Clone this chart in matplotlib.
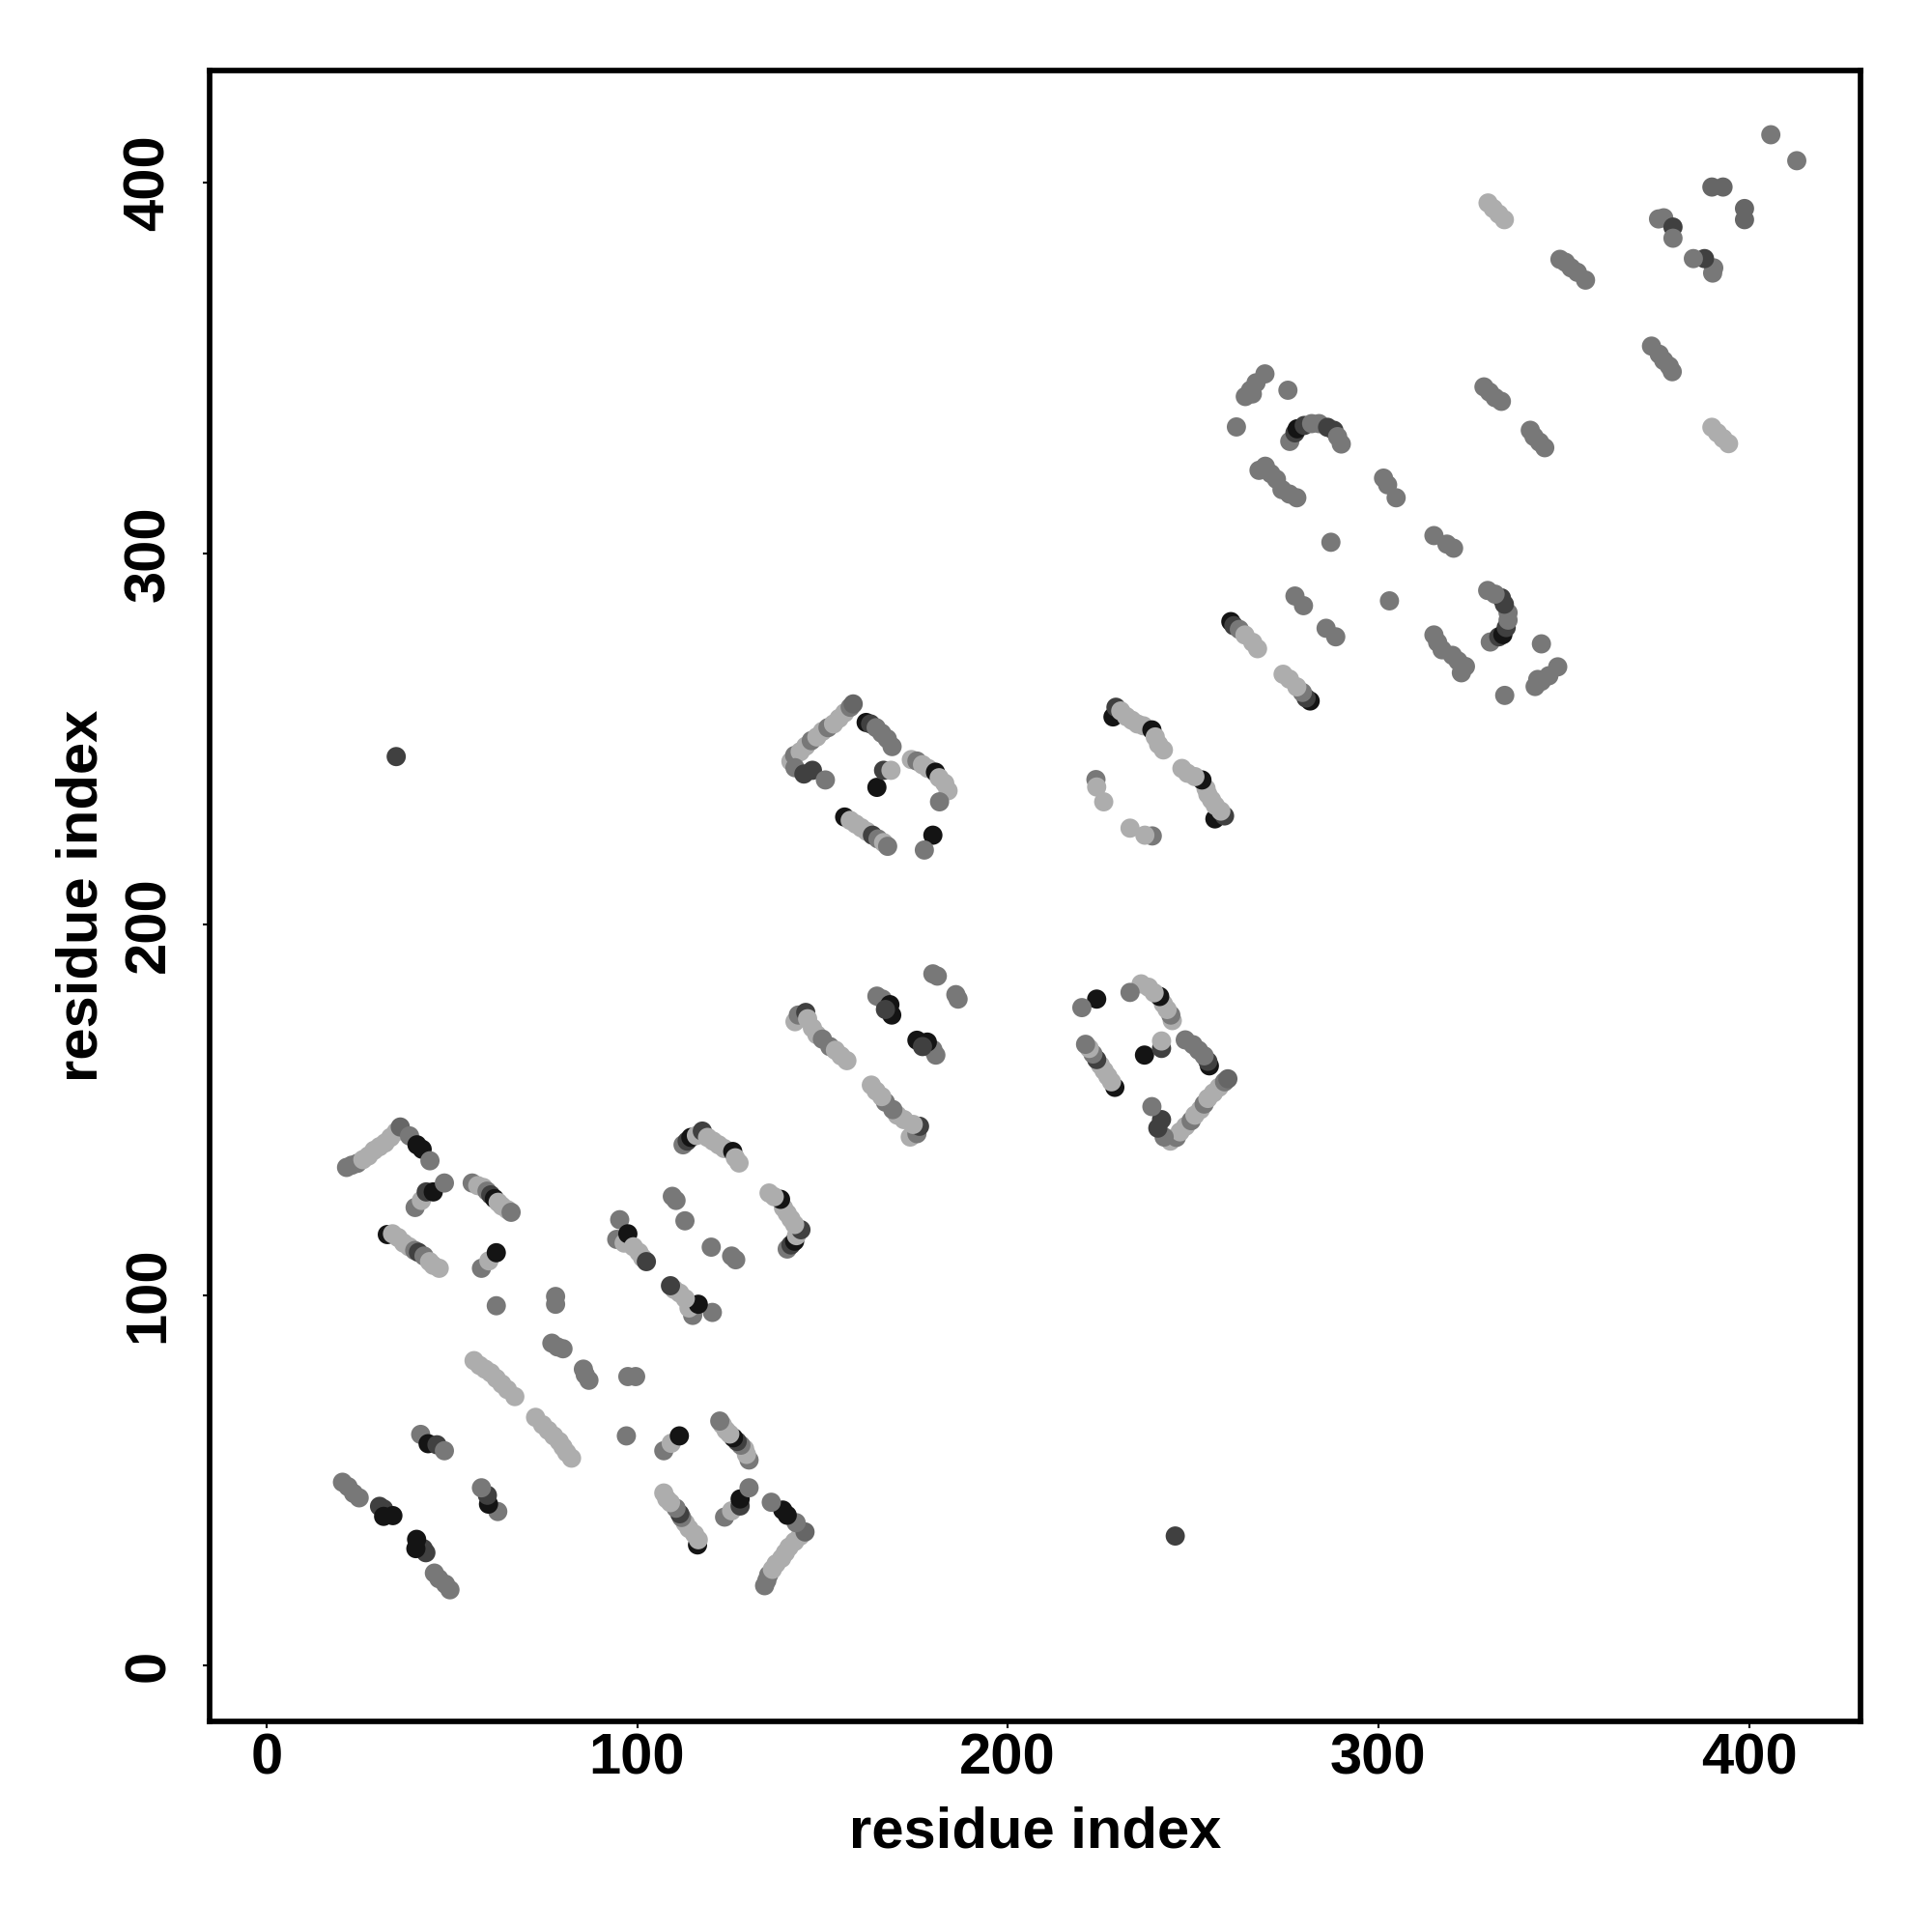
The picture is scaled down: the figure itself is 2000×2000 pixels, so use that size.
import matplotlib
matplotlib.use("Agg")
import matplotlib.pyplot as plt
import numpy as np

# Shade levels (grey value, 0 = black, 1 = white)
K, D, M, G, L = 0.08, 0.25, 0.40, 0.47, 0.68

# Contacts (residue i, residue j) read from the upper-left triangle (j > i);
# the map is symmetric, so each contact is also drawn at (j, i).
contact_i = [
    # block near 20-50 / 130-145
    21.6, 23, 24.5, 26, 27.5, 29, 30.5, 32, 33.5, 35, 36.1, 38.6, 40.6, 42, 44.1,
    32.6, 34, 35.5, 37, 38.5, 40, 41, 42.5, 44, 45, 46.6,
    40.1, 41.8, 43.1, 45, 48,
    55.5, 57, 58.5, 59.5, 60.5, 61.5, 62.5, 63.5, 65, 66,
    58, 60, 62,
    62,
    78, 78,
    77, 78.5, 80,
    56, 57.5, 59, 60.5, 62, 63.5, 65, 67,
    20.5, 22, 23.5, 25, 30.5, 31.6, 31.6, 34.1,
    41.6, 43.6, 46, 48,
    95.3, 94.5, 96.5, 97.5, 99, 100.5, 101.5, 102.5,
    109.5, 110.5, 112.9,
    112.4, 113.5, 114.5, 116, 117.6, 119, 120.5, 122, 123.5, 125.8, 126.5, 127.5,
    # block 140-190
    142.6, 143.5, 145.5, 146, 147.3, 148.5, 150, 152, 153.5, 155, 156.6,
    164.7, 166.2, 168.2, 168.7, 167,
    179.8, 181,
    # block 140-185 / 220-260
    141.5, 142.5, 144, 145.5, 147, 148.5, 150, 151.5, 153, 154.5, 156, 157.5, 158.3,
    161.8, 163, 164.5, 166, 167.5, 168.8,
    142.6, 145, 147.3, 150.8,
    164.7, 166.5, 168.5,
    174, 175.5, 177, 178.5, 180.5, 181.5, 183, 183.9, 181.6,
    156, 157.5, 159, 160.5, 162, 163.5, 165, 166.5, 167.6,
    179.8, 177.5,
    # block 220-260
    228.4, 229.2, 230.5, 232, 233.5, 235, 236.6, 238.9, 239.8, 240.7, 242,
    223.8, 224, 225.9,
    # block 260-415
    264.1, 265.5, 267, 269.4, 266,
    275.6,
    261.7,
    276.1, 277.5, 278.1, 280, 282, 284, 286.3, 288, 289, 290,
    267.8, 269.5, 271, 272.5, 274, 276, 278,
    301.4, 302.5, 304.8,
    287.2,
    277.5, 279.8,
    260.2, 261, 262.5, 264, 266.1, 267.4,
    328.5, 330, 331.5, 333.2,
    349, 350.5, 352, 353.7, 355.9,
    329.6, 331, 332.5, 334,
    375.6, 377, 379.5, 379.5,
    390, 393,
    405.9,
    # isolated
    35,
]

contact_j = [
    134.4, 135, 135.5, 136.5, 137.5, 139, 140, 141, 142.5, 144, 145.3, 142.9, 140.5, 139.3, 136.2,
    116.3, 116.5, 115.5, 114, 113, 112, 111.5, 110.5, 109, 108, 107.2,
    123.6, 125.5, 127.8, 127.8, 130.2,
    130.2, 129.5, 129, 128, 127, 126, 125, 124, 123, 122.3,
    107.2, 109.2, 111.4,
    97.1,
    99.6, 97.5,
    87, 86, 85.5,
    82.3, 81, 80, 79, 77.5, 76, 74.5, 72.6,
    49.5, 48.3, 46.5, 45.3, 43, 42.3, 40.3, 40.5,
    62.4, 59.9, 59.6, 58,
    120.3, 115, 114, 116.5, 113, 111.5, 110, 109,
    126.6, 125.5, 120,
    140.5, 141.5, 142.5, 143, 144.2, 142.5, 141.5, 140.5, 139.5, 138.7, 137, 135.6,
    173.7, 175.5, 176.2, 174.5, 172, 170.2, 169, 167, 166, 164.5, 163.2,
    180.6, 179.8, 178.3, 175.5, 177,
    186.6, 186,
    243.9, 245.5, 246.5, 248, 249.5, 250.5, 252, 253, 254, 255.5, 257, 258.5, 259.4,
    254.4, 254, 253, 251.5, 250, 247.9,
    242.2, 240.5, 241.5, 238.9,
    236.9, 241.5, 241.5,
    244.4, 244, 243, 242, 241, 239.5, 238, 236, 233,
    228.9, 228, 227, 226, 225, 224, 223, 222, 221,
    224, 220,
    255.9, 258.5, 257.5, 256, 255, 254, 253.5, 252.4, 250.5, 248.5, 247,
    239, 237, 233,
    342.3, 344, 346, 348.4, 343,
    344,
    334.1,
    330.2, 332.5, 333.6, 334.5, 335, 335, 334, 333.2, 331.5, 329.5,
    322.4, 323.5, 321.5, 320, 317.2, 316, 315,
    320.3, 318.5, 315,
    303,
    288.5, 285.9,
    281.6, 280.5, 279.5, 278, 276, 274.3,
    344.9, 343.5, 342, 341,
    379.3, 378.5, 377, 375.8, 373.7,
    394.5, 393, 391.5, 390,
    390.2, 390.5, 388, 385,
    398.8, 398.8,
    412.9,
    245.2,
]

contact_shade = [
    G, G, G, L, L, L, L, L, L, L, M, G, K, K, G,
    K, L, L, L, L, G, D, G, L, L, L,
    G, L, D, K, G,
    G, L, L, G, D, K, L, L, L, G,
    G, L, K,
    G,
    G, G,
    G, G, G,
    L, L, L, L, L, L, L, L,
    G, G, G, G, D, D, K, K,
    G, K, D, G,
    G, G, L, K, L, L, L, D,
    G, G, G,
    G, D, K, L, D, L, L, L, L, K, L, L,
    L, G, D, L, L, L, G, G, L, L, L,
    G, G, K, K, D,
    G, G,
    L, G, L, L, G, L, L, G, L, L, L, G, M,
    K, D, G, G, G, G,
    G, D, D, G,
    K, D, L,
    L, G, L, L, K, L, L, L, G,
    K, L, L, L, L, D, G, L, G,
    K, G,
    K, D, L, L, L, L, L, K, L, L, L,
    G, L, L,
    G, G, G, G, G,
    G,
    G,
    G, D, K, D, G, G, D, D, G, G,
    G, G, G, G, G, G, G,
    G, G, G,
    G,
    G, G,
    K, D, G, L, L, L,
    G, G, G, G,
    G, G, G, G, G,
    L, L, L, L,
    G, G, D, G,
    M, M,
    G,
    D,
]

x_ticks = [0, 100, 200, 300, 400]
y_ticks = [0, 100, 200, 300, 400]
x_title = "residue index"
y_title = "residue index"

ci = np.array(contact_i)
cj = np.array(contact_j)
cs = np.array(contact_shade)
xs = np.concatenate([ci, cj])
ys = np.concatenate([cj, ci])
cols = [(v, v, v) for v in np.concatenate([cs, cs])]

plt.rcParams['font.family'] = ['Liberation Sans', 'DejaVu Sans']
plt.rcParams['font.weight'] = 'bold'

fig = plt.figure(figsize=(20, 20), dpi=100)
ax = fig.add_axes([0.1084, 0.109, 0.8546, 0.85465])
ax.scatter(xs, ys, s=205, c=cols, linewidths=0, zorder=3)

ax.set_xlim(-15.4, 430.1)
ax.set_ylim(-15.0, 430.3)
ax.set_xticks(x_ticks)
ax.set_yticks(y_ticks)
ax.set_xticklabels([str(t) for t in x_ticks])
ax.set_yticklabels([str(t) for t in y_ticks])

for sp in ax.spines.values():
    sp.set_linewidth(4.1)
    sp.set_color('black')

ax.tick_params(axis='both', direction='out', length=5, width=1.5, color='black',
               labelsize=43)
ax.tick_params(axis='x', pad=3)
ax.tick_params(axis='y', pad=28.7)
for lab in ax.get_xticklabels():
    lab.set_fontweight('bold')
for lab in ax.get_yticklabels():
    lab.set_fontweight('bold')
    lab.set_rotation(90)
    lab.set_rotation_mode('anchor')
    lab.set_ha('center')
    lab.set_va('baseline')

ax.set_xlabel(x_title, fontsize=43, fontweight='bold')
ax.set_ylabel(y_title, fontsize=43, fontweight='bold')
ax.xaxis.label.set_va('baseline')
ax.xaxis.set_label_coords(0.5, -0.0761)
ax.yaxis.label.set_rotation(90)
ax.yaxis.label.set_rotation_mode('anchor')
ax.yaxis.label.set_ha('center')
ax.yaxis.label.set_va('baseline')
ax.yaxis.set_label_coords(-0.0683, 0.5)

fig.savefig("out.png", dpi=100, facecolor='white')
